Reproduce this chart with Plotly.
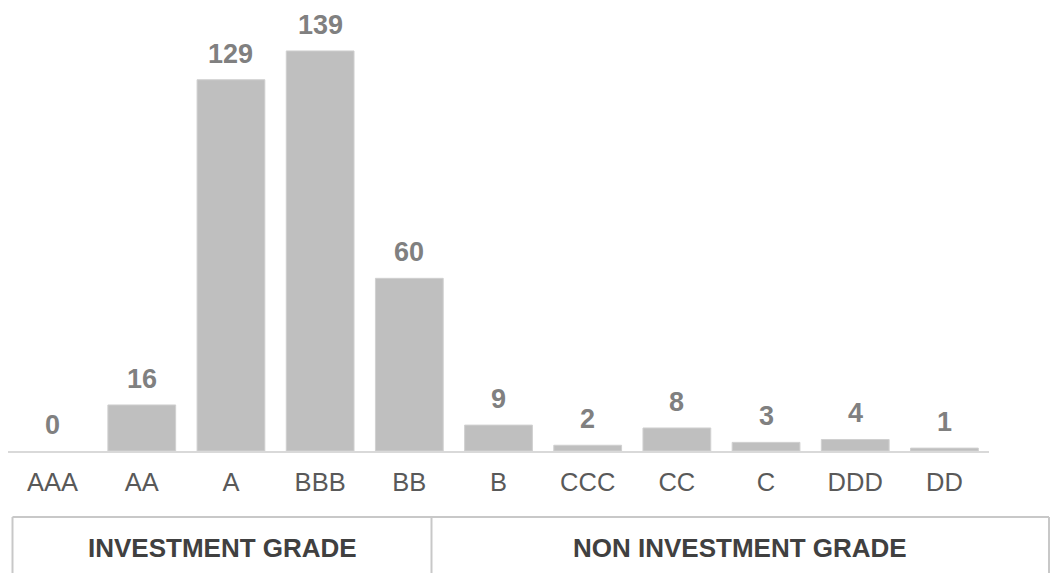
import plotly.graph_objects as go

# Ratings distribution
ratings = ["AAA", "AA", "A", "BBB", "BB", "B", "CCC", "CC", "C", "DDD", "DD"]
counts = [0, 16, 129, 139, 60, 9, 2, 8, 3, 4, 1]
groups = ["INVESTMENT GRADE", "NON INVESTMENT GRADE"]

W, H = 1057, 573
font = "Liberation Sans, Arial, sans-serif"

fig = go.Figure()
fig.add_trace(go.Bar(
    x=ratings, y=counts,
    marker=dict(color="#bfbfbf",
                line=dict(color="#d0d0d0", width=[0 if c == 0 else 1 for c in counts])),
    hoverinfo="x+y",
))

# value labels above each bar
for r, c in zip(ratings, counts):
    fig.add_annotation(x=r, y=c, text=str(c), showarrow=False,
                       yanchor="bottom", yshift=9,
                       font=dict(family=font, size=27, color="#808080", weight="bold"))

# grouping boxes under the axis
line_col = "#c8c8c8"
x_left, x_mid, x_right = 12.5 / W, 431.5 / W, 1049 / W
y_top = (H - 517) / H
for x0, x1, y0, y1 in [(x_left, x_right, y_top, y_top),
                       (x_left, x_left, 0, y_top),
                       (x_mid, x_mid, 0, y_top),
                       (x_right, x_right, 0, y_top)]:
    fig.add_shape(type="line", xref="paper", yref="paper",
                  x0=x0, x1=x1, y0=y0, y1=y1,
                  line=dict(color=line_col, width=2))

for g, (a, b) in zip(groups, [(x_left, x_mid), (x_mid, x_right)]):
    fig.add_annotation(x=(a + b) / 2, y=(H - 548) / H, xref="paper", yref="paper",
                       text=g, showarrow=False, xanchor="center", yanchor="middle",
                       font=dict(family=font, size=26, color="#404040", weight="bold"))

fig.update_layout(
    width=W, height=H,
    margin=dict(l=0, r=0, t=0, b=0),
    paper_bgcolor="white", plot_bgcolor="white",
    bargap=0.24, showlegend=False,
    xaxis=dict(domain=[8 / W, 989 / W], showgrid=False, zeroline=False,
               showline=True, linecolor="#d9d9d9", linewidth=2,
               ticks="", ticklabelstandoff=7,
               tickfont=dict(family=font, size=25.5, color="#595959")),
    yaxis=dict(domain=[(H - 451) / H, (H - 19) / H], range=[0, 150.1],
               visible=False, showgrid=False, zeroline=False),
)

fig.write_html("out.html")
